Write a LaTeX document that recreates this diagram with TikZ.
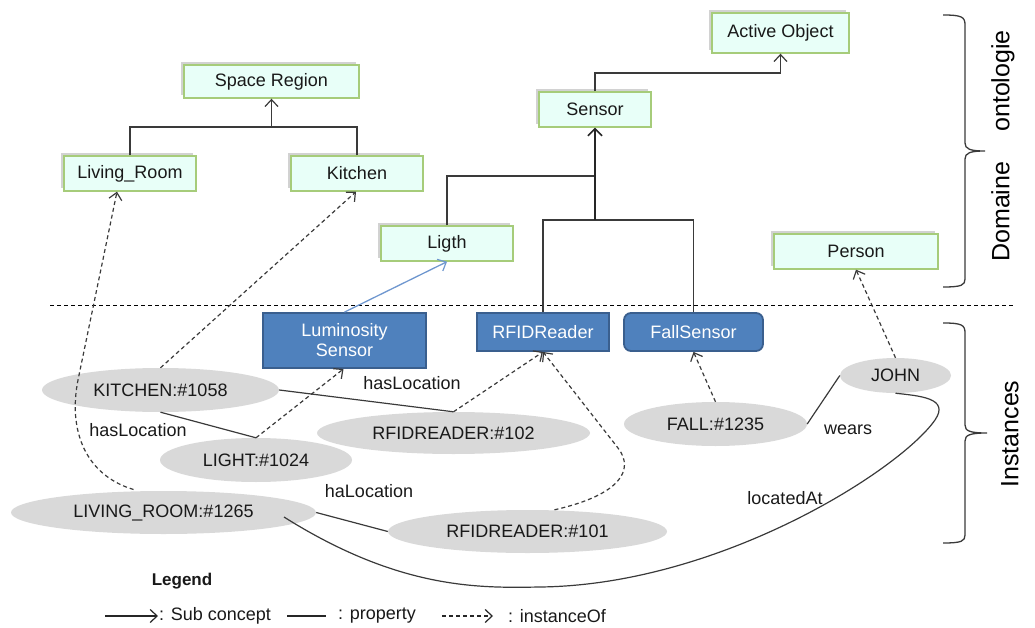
\documentclass[tikz,border=0pt]{standalone}
\usepackage{fontspec}
\setmainfont{Liberation Sans}
\usetikzlibrary{arrows.meta,shapes.geometric,shadows,calc}
\definecolor{cfill}{HTML}{E8FFF8}
\definecolor{cborder}{HTML}{A6CC7A}
\definecolor{bfill}{HTML}{4F81BD}
\definecolor{bborder}{HTML}{3A5F8E}
\definecolor{ifill}{HTML}{D9D9D9}
\definecolor{lcol}{HTML}{3A3A3A}
\definecolor{bline}{HTML}{6F97CF}
\tikzset{
  txt/.style={font=\fontsize{18}{21}\selectfont, text=black!90},
  concept/.style={txt, draw=cborder, fill=cfill, line width=1.4pt, inner sep=0pt,
    drop shadow={shadow xshift=-3pt, shadow yshift=3pt, opacity=0.25, fill=black!70}},
  bluebox/.style={txt, text=white, draw=bborder, fill=bfill, line width=1.8pt, inner sep=0pt, align=center},
  inst/.style={txt, ellipse, fill=ifill, inner sep=0pt},
  lbl/.style={txt},
  tipv/.style={-{Straight Barb[length=7pt,width=13pt,line width=1.2pt]}},
  sub/.style={draw=lcol, line width=1.4pt},
  subarr/.style={sub, tipv},
  prop/.style={draw=lcol, line width=1.2pt},
  inof/.style={draw=lcol, line width=1.2pt, dash pattern=on 4pt off 3pt, tipv},
}
\begin{document}
\begin{tikzpicture}[x=1pt,y=-1pt]
\useasboundingbox (0,0) rectangle (1035,628);

% ---- domain concepts
\node[concept, minimum width=175pt, minimum height=33pt] (sr) at (271.5,81.5) {Space Region};
\node[concept, minimum width=132pt, minimum height=35pt] (lr) at (130,173.5) {Living\_Room};
\node[concept, minimum width=132pt, minimum height=35pt] (kit) at (357,173.5) {Kitchen};
\node[concept, minimum width=132pt, minimum height=35pt] (lig) at (447,243.5) {Ligth};
\node[concept, minimum width=137pt, minimum height=40pt] (ao) at (780.5,33) {Active Object};
\node[concept, minimum width=112pt, minimum height=35pt] (sen) at (595,109.5) {Sensor};
\node[concept, minimum width=164pt, minimum height=35pt] (per) at (856,251.5) {Person};

% ---- sub concept tree
\coordinate (j1) at (271.5,127);
\draw[sub] (lr.north) |- (j1);
\draw[sub] (kit.north) |- (j1);
\draw[subarr] (j1) -- (sr.south);

\coordinate (j2) at (595,73);
\draw[subarr] (sen.north) -- (j2) -| (ao.south);

% ---- separator
\coordinate (sepa) at (50,305);
\coordinate (sepb) at (1015,305);
\draw[black, line width=1pt, dash pattern=on 4pt off 3pt] (sepa) -- (sepb);

% ---- blue instance classes
\node[bluebox, minimum width=163pt, minimum height=55pt] (lum) at (344.5,340.5) {Luminosity\\[-1pt]Sensor};
\node[bluebox, minimum width=132pt, minimum height=38pt] (rfid) at (543,332) {RFIDReader};
\node[bluebox, rounded corners=7pt, minimum width=139pt, minimum height=38pt] (fs) at (693.5,332) {FallSensor};

\coordinate (j3) at (595,176);
\coordinate (j4) at (595,220);
\draw[sub] (lig.north) |- (j3);
\draw[sub] (rfid.north) |- (j4);
\draw[sub] (fs.north) |- (j4);
\draw[draw=black!85, line width=2.2pt, -{Straight Barb[length=7pt,width=14pt,line width=1.6pt]}] (j4) -- (sen.south);

\draw[draw=bline, line width=1.3pt, tipv] (lum.north) -- (lig.south);

% ---- instances
\node[inst, minimum width=237pt, minimum height=44pt] (kI) at (160.5,390) {KITCHEN:\#1058};
\node[inst, minimum width=192pt, minimum height=44pt] (lI) at (256,460) {LIGHT:\#1024};
\node[inst, minimum width=305pt, minimum height=43pt] (lrI) at (163.5,512.5) {LIVING\_ROOM:\#1265};
\node[inst, minimum width=273pt, minimum height=42pt] (r102) at (453.5,433) {RFIDREADER:\#102};
\node[inst, minimum width=279pt, minimum height=43pt] (r101) at (527.5,531.5) {RFIDREADER:\#101};
\node[inst, minimum width=183pt, minimum height=44pt] (fI) at (715.5,424) {FALL:\#1235};
\node[inst, minimum width=111pt, minimum height=35pt] (jI) at (895.5,375.5) {JOHN};

% ---- instanceOf
\draw[inof] (kI.north) -- ($(kit.south)+(-1,0)$);
\draw[inof] ($(lrI.center)+(-30,-23)$) .. controls (85,475) and (68,430) .. (78,380) -- ($(lr.south)+(-13,0)$);
\draw[inof] (lI.north) -- ($(lum.south)+(-1,0)$);
\draw[inof] (r102.north) -- (rfid.south);
\draw[inof] ($(r101.north)+(27,0)$) .. controls (620,495) and (635,470) .. (618,448) -- (rfid.south);
\draw[inof] (fI.north) -- (fs.south);
\draw[inof] (jI.north) -- (per.south);

% ---- properties
\draw[prop] (kI.east) -- (r102.north);
\draw[prop] (kI.south) -- (lI.north);
\draw[prop] (lrI.east) -- (r101.west);
\draw[prop] (fI.east) -- (jI.west);
\draw[prop] ($(lrI.center)+(120.5,4.5)$) .. controls (400,590) and (480,588) .. (540,587)
   .. controls (720,585) and (900,470) .. (935,420) .. controls (950,398) and (920,396) .. (jI.south);

\node[lbl] (pl1) at (412,383) {hasLocation};
\node[lbl] (pl2) at (138,430) {hasLocation};
\node[lbl] (pl3) at (369,491) {haLocation};
\node[lbl] (pl4) at (848,430) {wears};
\node[lbl] (pl5) at (785,498) {locatedAt};

% ---- braces and side titles
\coordinate (b1a) at (943,15);
\coordinate (b1b) at (943,287);
\draw[lcol, line width=1.3pt] (b1a) .. controls (962,15) and (965,17) .. (965,25) -- (965,143)
  .. controls (965,149) and (970,151) .. (985,151) .. controls (970,151) and (965,153) .. (965,159)
  -- (965,279) .. controls (965,285) and (962,287) .. (b1b);
\coordinate (b2a) at (943,323);
\coordinate (b2b) at (943,543);
\draw[lcol, line width=1.3pt] (b2a) .. controls (962,323) and (965,325) .. (965,333) -- (965,425)
  .. controls (965,431) and (970,433) .. (987,433) .. controls (970,433) and (965,435) .. (965,441)
  -- (965,535) .. controls (965,541) and (962,543) .. (b2b);
\node[rotate=90, font=\fontsize{25}{28}\selectfont] (dom) at (1003,146) {Domaine\hspace{30pt}ontologie};
\node[rotate=90, font=\fontsize{25}{28}\selectfont] (ins) at (1010,434) {Instances};

% ---- legend
\node[txt, font=\fontsize{17}{20}\selectfont\bfseries] (leg) at (182,581) {Legend};
\coordinate (la1) at (105,616);
\coordinate (la2) at (158,616);
\coordinate (lb1) at (287,616);
\coordinate (lb2) at (326,616);
\coordinate (lc1) at (442,616);
\coordinate (lc2) at (493,616);
\draw[subarr, draw=black!85] (la1) -- (la2);
\draw[prop, draw=black!85] (lb1) -- (lb2);
\draw[inof, draw=black!85] (lc1) -- (lc2);
\node[txt, anchor=west, inner sep=0pt] (lt1) at (159,616) {: Sub concept};
\node[txt, anchor=west, inner sep=0pt] (lt2) at (338,616) {: property};
\node[txt, anchor=west, inner sep=0pt] (lt3) at (508,616) {: instanceOf};
\end{tikzpicture}
\end{document}
